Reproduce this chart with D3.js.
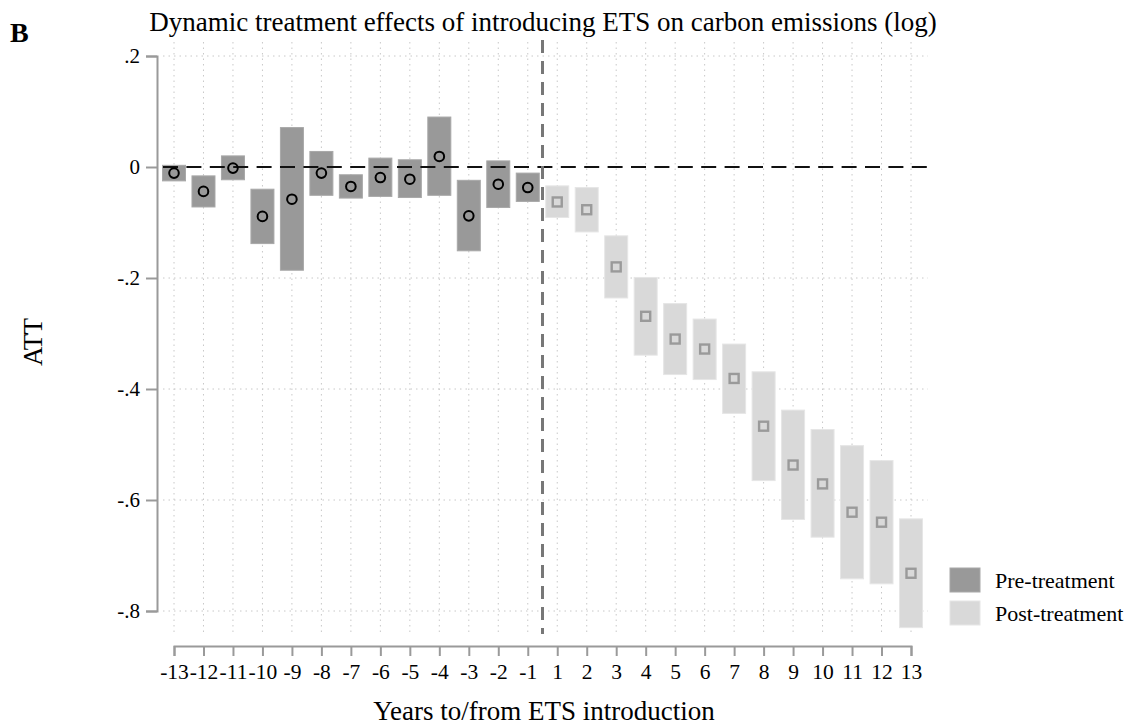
<!DOCTYPE html>
<html>
<head>
<meta charset="utf-8">
<script src="https://cdn.jsdelivr.net/npm/d3@7/dist/d3.min.js"></script>
<style>
  html, body { margin: 0; padding: 0; background: #fff; }
  svg { display: block; font-family: "Liberation Serif", "Times New Roman", serif; }
</style>
</head>
<body>
<svg id="chart" width="1126" height="725"></svg>
<script>
// Event-time periods (years to/from ETS introduction)
const periods = [-13,-12,-11,-10,-9,-8,-7,-6,-5,-4,-3,-2,-1,1,2,3,4,5,6,7,8,9,10,11,12,13];

// Point estimates of the ATT
const att = [-0.011,-0.044,-0.002,-0.089,-0.058,-0.011,-0.035,-0.019,-0.022,0.019,-0.088,-0.031,-0.037,
             -0.063,-0.077,-0.180,-0.269,-0.310,-0.328,-0.381,-0.467,-0.537,-0.571,-0.622,-0.640,-0.732];

// Confidence interval bounds
const ciUpper = [0.003,-0.016,0.020,-0.040,0.071,0.028,-0.014,0.016,0.013,0.090,-0.024,0.011,-0.011,
                 -0.034,-0.037,-0.124,-0.199,-0.246,-0.274,-0.319,-0.369,-0.438,-0.473,-0.502,-0.529,-0.634];
const ciLower = [-0.025,-0.072,-0.023,-0.138,-0.186,-0.051,-0.056,-0.053,-0.055,-0.051,-0.151,-0.073,-0.062,
                 -0.091,-0.117,-0.236,-0.339,-0.374,-0.383,-0.444,-0.565,-0.635,-0.667,-0.742,-0.751,-0.830];

const yTicks = [0.2, 0, -0.2, -0.4, -0.6, -0.8];
const yTickLabels = [".2", "0", "-.2", "-.4", "-.6", "-.8"];
const legendLabels = ["Pre-treatment", "Post-treatment"];

const data = periods.map((p, i) => ({ p, att: att[i], hi: ciUpper[i], lo: ciLower[i], post: p > 0 }));

const PRE_FILL = "#999999", POST_FILL = "#d9d9d9";
const svg = d3.select("#chart");

const x = d3.scalePoint().domain(periods).range([174, 911]);
const y = d3.scaleLinear().domain([-0.8, 0.2]).range([611, 56]);
const barW = 23;

// Grid lines (dotted)
const grid = svg.append("g");
grid.selectAll("line.h").data(yTicks.filter(t => t !== 0)).join("line")
  .attr("x1", 163).attr("x2", 928)
  .attr("y1", d => y(d)).attr("y2", d => y(d))
  .attr("stroke", "#c8c8c8").attr("stroke-width", 1).attr("stroke-dasharray", "1.5,4");
grid.selectAll("line.v").data(periods).join("line")
  .attr("x1", d => x(d)).attr("x2", d => x(d))
  .attr("y1", 42).attr("y2", 634)
  .attr("stroke", "#c8c8c8").attr("stroke-width", 1).attr("stroke-dasharray", "1.5,4");

// Confidence interval bars
svg.append("g").selectAll("rect").data(data).join("rect")
  .attr("x", d => x(d.p) - barW / 2)
  .attr("width", barW)
  .attr("y", d => y(d.hi))
  .attr("height", d => y(d.lo) - y(d.hi))
  .attr("fill", d => d.post ? POST_FILL : PRE_FILL)
  .attr("stroke", d => d.post ? "#e6e6e6" : "#a8a8a8")
  .attr("stroke-width", 1);

// Zero reference line
svg.append("line")
  .attr("x1", 163).attr("x2", 928)
  .attr("y1", y(0)).attr("y2", y(0))
  .attr("stroke", "#111").attr("stroke-width", 2).attr("stroke-dasharray", "15,8.4");

// Treatment onset line
const xOnset = (x(-1) + x(1)) / 2;
svg.append("line")
  .attr("x1", xOnset).attr("x2", xOnset)
  .attr("y1", 40).attr("y2", 634)
  .attr("stroke", "#777").attr("stroke-width", 3).attr("stroke-dasharray", "13,8");

// Point estimates: circles before, squares after
svg.append("g").selectAll("circle").data(data.filter(d => !d.post)).join("circle")
  .attr("cx", d => x(d.p)).attr("cy", d => y(d.att)).attr("r", 4.8)
  .attr("fill", "none").attr("stroke", "#000").attr("stroke-width", 2);
svg.append("g").selectAll("rect").data(data.filter(d => d.post)).join("rect")
  .attr("x", d => x(d.p) - 4.5).attr("y", d => y(d.att) - 4.5)
  .attr("width", 9).attr("height", 9)
  .attr("fill", "none").attr("stroke", "#9a9a9a").attr("stroke-width", 2.4);

// Y axis
const yAxis = svg.append("g").attr("transform", "translate(157,0)")
  .call(d3.axisLeft(y).tickValues(yTicks).tickFormat((d, i) => yTickLabels[i]).tickSize(11).tickPadding(6));
yAxis.select(".domain").attr("stroke", "#9a9a9a").attr("stroke-width", 2);
yAxis.selectAll(".tick line").attr("stroke", "#9a9a9a").attr("stroke-width", 2);
yAxis.selectAll(".tick text").attr("font-family", "Liberation Serif").attr("font-size", 21).attr("fill", "#000");

// X axis
const xAxis = svg.append("g").attr("transform", "translate(0,646)")
  .call(d3.axisBottom(x).tickSize(10).tickPadding(8));
xAxis.select(".domain").attr("stroke", "#9a9a9a").attr("stroke-width", 2);
xAxis.selectAll(".tick line").attr("stroke", "#9a9a9a").attr("stroke-width", 2);
xAxis.selectAll(".tick text").attr("font-family", "Liberation Serif").attr("font-size", 21.5).attr("fill", "#000");

// Titles
svg.append("text").attr("x", 543).attr("y", 31).attr("text-anchor", "middle")
  .attr("font-size", 27).text("Dynamic treatment effects of introducing ETS on carbon emissions (log)");
svg.append("text").attr("x", 10).attr("y", 42).attr("font-size", 28).attr("font-weight", "bold").text("B");
svg.append("text").attr("x", 544).attr("y", 720).attr("text-anchor", "middle")
  .attr("font-size", 27).text("Years to/from ETS introduction");
svg.append("text").attr("transform", "translate(42,342) rotate(-90)").attr("text-anchor", "middle")
  .attr("font-size", 27).attr("textLength", 48).attr("lengthAdjust", "spacing").text("ATT");

// Legend
const legend = svg.append("g").selectAll("g").data(legendLabels).join("g")
  .attr("transform", (d, i) => `translate(950,${568 + i * 33})`);
legend.append("rect").attr("width", 30).attr("height", 24)
  .attr("fill", (d, i) => i === 0 ? PRE_FILL : POST_FILL)
  .attr("stroke", (d, i) => i === 0 ? "#a8a8a8" : "#e6e6e6");
legend.append("text").attr("x", 45).attr("y", 20).attr("font-size", 22).text(d => d);
</script>
</body>
</html>
